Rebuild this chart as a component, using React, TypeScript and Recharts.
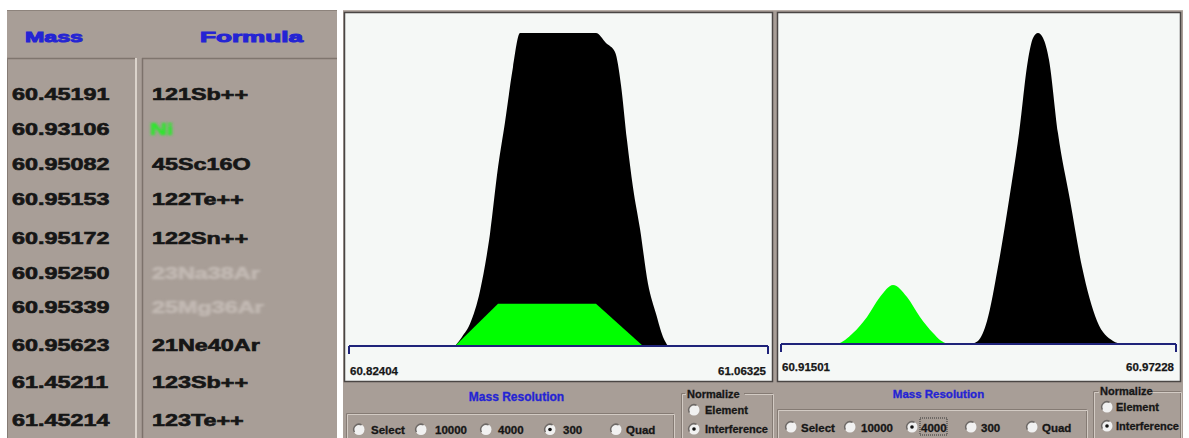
import React from 'react';
import { AreaChart, Area, XAxis, YAxis } from 'recharts';

// interference list (left table)
const tableMasses = ['60.45191', '60.93106', '60.95082', '60.95153', '60.95172', '60.95250', '60.95339', '60.95623', '61.45211', '61.45214'];
const tableFormulas = ['121Sb++', 'Ni', '45Sc16O', '122Te++', '122Sn++', '23Na38Ar', '25Mg36Ar', '21Ne40Ar', '123Sb++', '123Te++'];
const tableStates = ['plain', 'element', 'plain', 'plain', 'plain', 'dim', 'dim', 'plain', 'plain', 'plain'];

// resolution 300 scan
const lowResDomain = [60.82404, 61.06325];
const lowResMass = [60.88456, 60.88855, 60.89312, 60.89883, 60.90454, 60.90911, 60.9131, 60.91767, 60.92167, 60.96505, 60.97076, 60.9759, 60.97933, 60.98275, 60.98618, 60.99017, 60.99189, 60.99474, 60.99931, 61.00331, 61.00616];
const lowResInterference = [0, 2.9, 7.1, 17.6, 35.9, 57.1, 71.5, 89.1, 100, 100, 96.8, 93.9, 83.3, 65.7, 50.6, 37.5, null, 19.9, 10.3, 2.9, 0];
const lowResElement = [0, null, null, null, null, 13.5, null, null, null, 13.5, null, null, null, null, null, null, 0, null, null, null, null];

// resolution 4000 scan
const highResDomain = [60.91501, 60.97228];
const highResMass = [60.92327, 60.92429, 60.92545, 60.92748, 60.92936, 60.93125, 60.93328, 60.93516, 60.93705, 60.93806, 60.93922, 60.94241, 60.94357, 60.94488, 60.94647, 60.94807, 60.94952, 60.95082, 60.95155, 60.95227, 60.953, 60.95387, 60.95517, 60.95691, 60.95865, 60.96083, 60.96315, 60.96445];
const highResElement = [0, 1.3, 3.5, 8.7, 15.1, 19.0, 15.1, 8.7, 3.5, 1.3, 0, null, null, null, null, null, null, null, null, null, null, null, null, null, null, null, null, null];
const highResInterference = [null, null, null, null, null, null, null, null, null, null, null, 0, 1.0, 7.4, 24.8, 46.3, 67.8, 91.3, 98.4, 100, 98.4, 91.3, 67.8, 46.3, 24.8, 7.4, 1.0, 0];

const resolutionOptions = ['Select', '10000', '4000', '300', 'Quad'];
const normalizeOptions = ['Element', 'Interference'];

const GRAY = '#a89e97';
const PANEL = '#f5f8f6';
const BLUE = '#2424d4';
const NAVY = '#1f237a';
const INK = '#161616';
const FONT = '"Liberation Sans", Arial, sans-serif';

const lowRows = lowResMass.map((m, i) => ({ mass: m, interference: lowResInterference[i], element: lowResElement[i] }));
const highRows = highResMass.map((m, i) => ({ mass: m, interference: highResInterference[i], element: highResElement[i] }));

const rowBaselines = [100, 135, 170, 205, 244, 279, 313, 351, 388, 426];

const EdgeTick = ({ x, y, payload, index, dy }: any) => {
  const first = index === 0;
  return (
    <text x={first ? x + 1 : x - 2} y={y + dy} textAnchor={first ? 'start' : 'end'}
      fontFamily={FONT} fontSize={11.5} fontWeight="bold" fill={INK} stroke={INK} strokeWidth={0.25}>
      {Number(payload.value).toFixed(5)}
    </text>
  );
};

const Scan = ({ left, top, width, height, margin, domain, rows, elementCurve, labelDy }: any) => (
  <div style={{ position: 'absolute', left, top, width, height }}>
    <AreaChart width={width} height={height} data={rows} margin={margin}>
      <YAxis hide domain={[0, 100]} allowDataOverflow />
      <Area type="monotone" dataKey="interference" stroke="none" fill="#000" fillOpacity={1}
        connectNulls isAnimationActive={false} />
      <Area type={elementCurve} dataKey="element" stroke="none" fill="#00ff00" fillOpacity={1}
        connectNulls isAnimationActive={false} />
      <XAxis type="number" dataKey="mass" domain={domain} ticks={domain} interval={0} allowDataOverflow
        height={30} axisLine={{ stroke: NAVY, strokeWidth: 2 }} tickLine={{ stroke: NAVY, strokeWidth: 2 }}
        tickSize={8} tickMargin={2} tick={(p: any) => <EdgeTick {...p} dy={labelDy} />} />
    </AreaChart>
  </div>
);

const Radio = ({ cx, cy, on }: any) => (
  <g>
    <circle cx={cx} cy={cy} r={5.5} fill="#f1f1f1" />
    <path d={`M ${cx - 4.6} ${cy + 2.6} A 5.3 5.3 0 0 1 ${cx + 2.6} ${cy - 4.6}`} stroke="#6d6865" strokeWidth={1.5} fill="none" />
    {on && <circle cx={cx} cy={cy} r={1.8} fill="#111" />}
  </g>
);

const Etched = ({ d }: any) => (
  <g>
    <path d={d} stroke="#857b74" fill="none" />
    <path d={d} transform="translate(1,1)" stroke="#d3cbc4" fill="none" />
  </g>
);

const Label = ({ x, y, size = 11.5, fill = INK, anchor = 'start', children }: any) => (
  <text x={x} y={y} fontFamily={FONT} fontSize={size} fontWeight="bold" fill={fill} stroke={fill} strokeWidth={0.3}
    textAnchor={anchor}>{children}</text>
);

const Controls = ({ c }: any) => (
  <g>
    <Label x={c.titleX} y={c.titleY} size={c.titleSize} fill={BLUE} anchor="middle">Mass Resolution</Label>
    <Etched d={c.boxPath} />
    {resolutionOptions.map((o, i) => (
      <g key={o}>
        <Radio cx={c.radioXs[i]} cy={c.radioY} on={i === c.checked} />
        <Label x={c.labelXs[i]} y={c.labelY}>{o}</Label>
      </g>
    ))}
    {c.focus && <rect x={c.focus[0]} y={c.focus[1]} width={c.focus[2]} height={c.focus[3]} fill="none" stroke="#333" strokeDasharray="1 1" />}
    <Etched d={c.normPathA} />
    <Etched d={c.normPathB} />
    <Label x={c.normLabelX} y={c.normLabelY} size={11}>Normalize</Label>
    {normalizeOptions.map((o, i) => (
      <g key={o}>
        <Radio cx={c.normRadioX} cy={c.normRadioYs[i]} on={i === 1} />
        <Label x={c.normTextX} y={c.normTextYs[i]} size={11}>{o}</Label>
      </g>
    ))}
  </g>
);

const lowControls = {
  titleX: 516.5, titleY: 401, titleSize: 12,
  boxPath: 'M346.5 440 V413.5 H673.5 V440',
  radioXs: [359, 421, 486, 550, 616], labelXs: [371, 435, 498, 563, 626], radioY: 429.5, labelY: 434, checked: 3,
  normPathA: 'M685 393.5 H681.5 V440', normPathB: 'M744 393.5 H772.5 V440',
  normLabelX: 687, normLabelY: 398, normRadioX: 694, normRadioYs: [410, 429], normTextX: 705, normTextYs: [414, 433],
  focus: null,
};

const highControls = {
  titleX: 938.5, titleY: 398, titleSize: 11.5,
  boxPath: 'M777.5 440 V409.5 H1086.5 V440',
  radioXs: [791, 850, 912, 971, 1032], labelXs: [801, 861, 921, 981, 1042], radioY: 427, labelY: 432, checked: 2,
  normPathA: 'M1098 391.5 H1093.5 V440', normPathB: 'M1152 391.5 H1180.5 V440',
  normLabelX: 1100, normLabelY: 395, normRadioX: 1107, normRadioYs: [407, 426], normTextX: 1116, normTextYs: [411, 430],
  focus: [920, 418, 27, 17],
};

const Stretch = ({ x, y, fill, blur, children }: any) => (
  <text transform={`translate(${x} ${y}) scale(1.46 1)`} fontFamily={FONT} fontSize={16} fontWeight="bold"
    fill={fill} stroke={fill} strokeWidth={0.6} filter={blur ? 'url(#soft)' : undefined}>{children}</text>
);

const formulaColor = (s: string) => (s === 'element' ? '#2ee62e' : s === 'dim' ? '#c2b9b3' : INK);

export default function App() {
  return (
    <div style={{ position: 'absolute', left: 0, top: 0, width: 1189, height: 438, background: '#fff', overflow: 'hidden' }}>
      <svg width={1189} height={438} style={{ position: 'absolute', left: 0, top: 0 }}>
        <defs>
          <filter id="soft"><feGaussianBlur stdDeviation="1.1" /></filter>
        </defs>
        {/* interference table */}
        <rect x={7} y={10} width={330} height={428} fill={GRAY} />
        <line x1={7} x2={337} y1={10.5} y2={10.5} stroke="#8d837c" />
        <line x1={7} x2={135} y1={58.5} y2={58.5} stroke="#7f756e" strokeWidth={1.5} />
        <line x1={142} x2={337} y1={58.5} y2={58.5} stroke="#7f756e" strokeWidth={1.5} />
        <line x1={7.5} x2={7.5} y1={58} y2={438} stroke="#857b74" />
        <line x1={136} x2={136} y1={58} y2={438} stroke="#dbd3cb" strokeWidth={2} />
        <line x1={142.5} x2={142.5} y1={58} y2={438} stroke="#7c726b" strokeWidth={1.5} />
        <text x={25} y={42} textLength={58} lengthAdjust="spacingAndGlyphs" fontFamily={FONT} fontSize={14.5}
          fontWeight="bold" fill={BLUE} stroke={BLUE} strokeWidth={0.9}>Mass</text>
        <text x={200} y={42} textLength={103} lengthAdjust="spacingAndGlyphs" fontFamily={FONT} fontSize={14.5}
          fontWeight="bold" fill={BLUE} stroke={BLUE} strokeWidth={0.9}>Formula</text>
        {tableMasses.map((m, i) => (
          <g key={m}>
            <Stretch x={12} y={rowBaselines[i]} fill={INK}>{m}</Stretch>
            <Stretch x={tableStates[i] === 'element' ? 150 : 152} y={rowBaselines[i]} fill={formulaColor(tableStates[i])}
              blur={tableStates[i] !== 'plain'}>{tableFormulas[i]}</Stretch>
          </g>
        ))}

        {/* scan area */}
        <rect x={343} y={10} width={840} height={428} fill={GRAY} />
        <line x1={343} x2={1183} y1={10.5} y2={10.5} stroke="#b7ada6" />
        <rect x={344.5} y={12.5} width={428} height={369} fill={PANEL} stroke="#4a4644" strokeWidth={1.5} />
        <rect x={777.5} y={12.5} width={403} height={369} fill={PANEL} stroke="#4a4644" strokeWidth={1.5} />
        <Controls c={lowControls} />
        <Controls c={highControls} />
      </svg>

      <Scan left={344} top={12} width={429} height={370} margin={{ top: 21, right: 5, bottom: 6, left: 5 }}
        domain={lowResDomain} rows={lowRows} elementCurve="linear" labelDy={19} />
      <Scan left={777} top={12} width={404} height={370} margin={{ top: 21, right: 5, bottom: 8, left: 4 }}
        domain={highResDomain} rows={highRows} elementCurve="monotone" labelDy={17} />
    </div>
  );
}
